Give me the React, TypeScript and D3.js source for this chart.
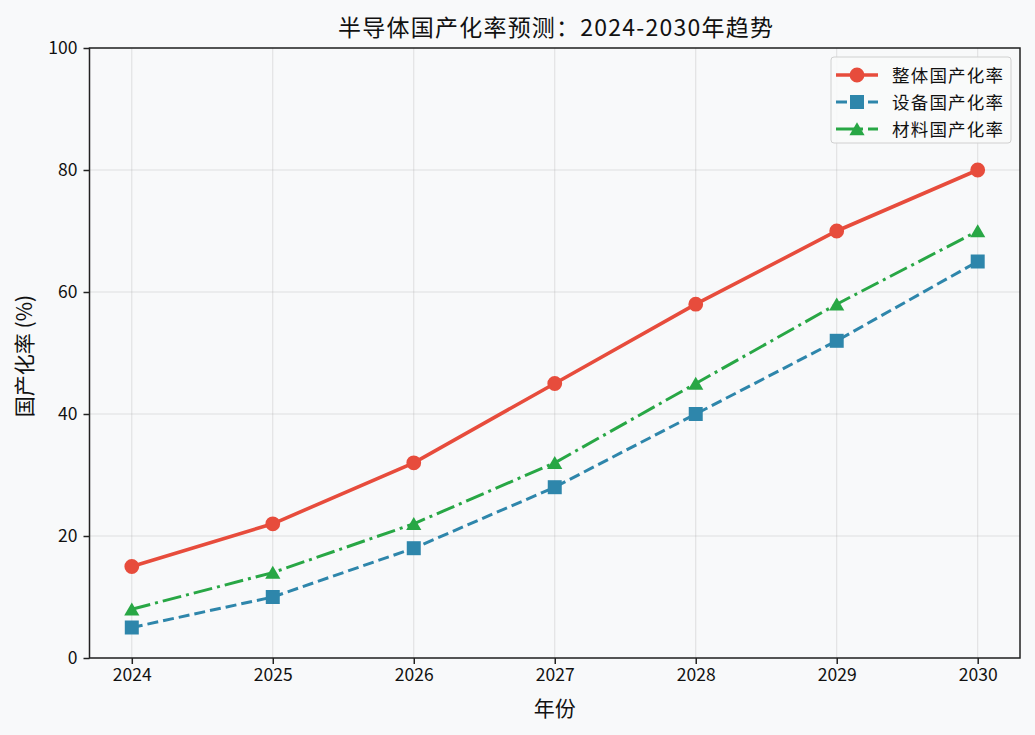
import { useEffect, useRef } from 'react';
import * as d3 from 'd3';

const years = [2024, 2025, 2026, 2027, 2028, 2029, 2030];
const overallRate = [15, 22, 32, 45, 58, 70, 80];
const equipmentRate = [5, 10, 18, 28, 40, 52, 65];
const materialRate = [8, 14, 22, 32, 45, 58, 70];
const yTicks = [0, 20, 40, 60, 80, 100];

const seriesList = [
  { name: '整体国产化率', values: overallRate, color: '#e74c3c', dash: '', marker: 'circle', width: 3.6 },
  { name: '设备国产化率', values: equipmentRate, color: '#2e86ab', dash: '11,5', marker: 'square', width: 3 },
  { name: '材料国产化率', values: materialRate, color: '#28a745', dash: '19,5,3,5', marker: 'triangle', width: 3 },
];

const W = 1035;
const H = 735;
const margin = { top: 48, right: 15, bottom: 77, left: 89.5 };
const FONT = '"Noto Sans CJK SC", "Noto Sans", sans-serif';

// matplotlib-like marker paths
function markerPath(kind: string): string {
  if (kind === 'circle') return d3.symbol().type(d3.symbolCircle).size(Math.PI * 7.4 * 7.4)() as string;
  if (kind === 'square') return 'M-7,-7L7,-7L7,7L-7,7Z';
  return 'M0,-6.8L7.6,6.2L-7.6,6.2Z';
}

export default function App() {
  const svgRef = useRef<SVGSVGElement>(null);

  useEffect(() => {
    document.body.style.margin = '0';
    if (!svgRef.current) return;
    const svg = d3.select(svgRef.current);
    svg.selectAll('*').remove();

    const iw = W - margin.left - margin.right;
    const ih = H - margin.top - margin.bottom;

    svg.append('rect').attr('width', W).attr('height', H).attr('fill', '#f8f9fa');

    const x = d3.scaleLinear().domain([2023.7, 2030.3]).range([0, iw]);
    const y = d3.scaleLinear().domain([0, 100]).range([ih, 0]);

    const g = svg.append('g').attr('transform', `translate(${margin.left},${margin.top})`);

    // grid
    g.append('g')
      .selectAll('line')
      .data(years)
      .join('line')
      .attr('x1', d => x(d)).attr('x2', d => x(d))
      .attr('y1', 0).attr('y2', ih)
      .attr('stroke', '#b0b0b0').attr('stroke-opacity', 0.35).attr('stroke-width', 1);
    g.append('g')
      .selectAll('line')
      .data(yTicks)
      .join('line')
      .attr('x1', 0).attr('x2', iw)
      .attr('y1', d => y(d)).attr('y2', d => y(d))
      .attr('stroke', '#b0b0b0').attr('stroke-opacity', 0.35).attr('stroke-width', 1);

    // lines
    const line = d3.line<number>()
      .x((_, i) => x(years[i]))
      .y(d => y(d));

    seriesList.forEach(s => {
      g.append('path')
        .datum(s.values)
        .attr('d', line)
        .attr('fill', 'none')
        .attr('stroke', s.color)
        .attr('stroke-width', s.width)
        .attr('stroke-dasharray', s.dash || null);

      g.append('g')
        .selectAll('path')
        .data(s.values)
        .join('path')
        .attr('transform', (d, i) => `translate(${x(years[i])},${y(d)})`)
        .attr('d', markerPath(s.marker))
        .attr('fill', s.color);
    });

    // axes frame
    g.append('rect')
      .attr('width', iw).attr('height', ih)
      .attr('fill', 'none').attr('stroke', '#222').attr('stroke-width', 1.5);

    const xAxis = g.append('g')
      .attr('transform', `translate(0,${ih})`)
      .call(d3.axisBottom(x).tickValues(years).tickFormat(d3.format('d')).tickSize(6).tickPadding(5));
    const yAxis = g.append('g')
      .call(d3.axisLeft(y).tickValues(yTicks).tickSize(6).tickPadding(6));
    [xAxis, yAxis].forEach(a => {
      a.select('.domain').remove();
      a.selectAll('line').attr('stroke', '#222').attr('stroke-width', 1.5);
      a.selectAll('text').attr('fill', '#111').style('font-family', FONT).style('font-size', '17.5px');
    });

    // title & labels
    svg.append('text')
      .attr('x', 338).attr('y', 36)
      .attr('textLength', 435).attr('lengthAdjust', 'spacing')
      .style('font-family', FONT).style('font-size', '23px').attr('fill', '#111')
      .text('半导体国产化率预测：2024-2030年趋势');
    svg.append('text')
      .attr('x', margin.left + iw / 2).attr('y', 716)
      .attr('text-anchor', 'middle')
      .style('font-family', FONT).style('font-size', '21px').attr('fill', '#111')
      .text('年份');
    svg.append('text')
      .attr('transform', `translate(32,${356}) rotate(-90)`)
      .attr('text-anchor', 'middle')
      .style('font-family', FONT).style('font-size', '21px').attr('fill', '#111')
      .text('国产化率 (%)');

    // legend
    const lg = svg.append('g').attr('transform', 'translate(831,57)');
    lg.append('rect')
      .attr('width', 180).attr('height', 86).attr('rx', 3)
      .attr('fill', '#f8f9fa').attr('fill-opacity', 0.9)
      .attr('stroke', '#d0d0d0').attr('stroke-width', 1);
    seriesList.forEach((s, i) => {
      const cy = 18 + i * 27;
      lg.append('line')
        .attr('x1', 5).attr('x2', 47).attr('y1', cy).attr('y2', cy)
        .attr('stroke', s.color).attr('stroke-width', s.width)
        .attr('stroke-dasharray', s.dash || null);
      lg.append('path')
        .attr('transform', `translate(26,${cy})`)
        .attr('d', markerPath(s.marker))
        .attr('fill', s.color);
      lg.append('text')
        .attr('x', 61).attr('y', cy + 6.5)
        .attr('textLength', 111).attr('lengthAdjust', 'spacing')
        .style('font-family', FONT).style('font-size', '17.5px').attr('fill', '#111')
        .text(s.name);
    });
  }, []);

  return (
    <div style={{ width: W, height: H }}>
      <svg ref={svgRef} width={W} height={H} style={{ display: 'block' }}></svg>
    </div>
  );
}
